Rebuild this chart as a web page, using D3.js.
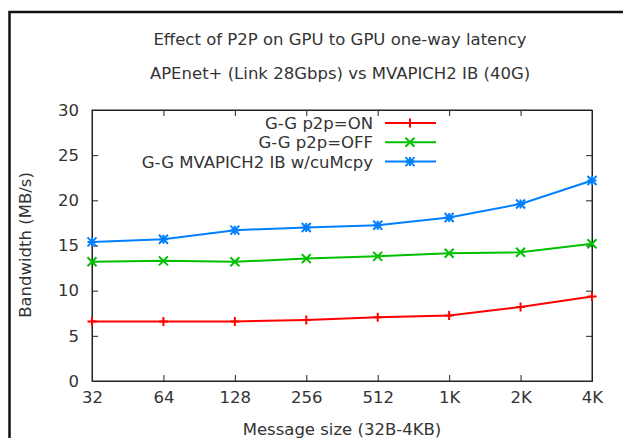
<!DOCTYPE html>
<html>
<head>
<meta charset="utf-8">
<script src="https://cdn.jsdelivr.net/npm/d3@7"></script>
<style>
  body { margin: 0; background: #fff; }
  text { font-family: "DejaVu Sans", sans-serif; fill: #333; }
</style>
</head>
<body>
<svg width="623" height="438"></svg>
<script>
// message sizes on the x axis (log2 steps)
const sizes = ["32", "64", "128", "256", "512", "1K", "2K", "4K"];
const yTicks = [0, 5, 10, 15, 20, 25, 30];

// bandwidth in MB/s
const p2pOn  = [6.6, 6.6, 6.6, 6.75, 7.05, 7.25, 8.2, 9.35];
const p2pOff = [13.2, 13.3, 13.2, 13.55, 13.8, 14.15, 14.25, 15.2];
const mvapich = [15.4, 15.7, 16.7, 17.0, 17.25, 18.1, 19.6, 22.2];

const series = [
  { name: "G-G p2p=ON", values: p2pOn, color: "#ff0000", mark: "plus" },
  { name: "G-G p2p=OFF", values: p2pOff, color: "#00c000", mark: "cross" },
  { name: "G-G MVAPICH2 IB w/cuMcpy", values: mvapich, color: "#0080ff", mark: "star" }
];

var svg = d3.select("svg");

// outer frame, only left and top edges show
svg.append("rect")
    .attr("x", 9.5).attr("y", 12)
    .attr("width", 640).attr("height", 460)
    .style("fill", "none")
    .style("stroke", "#111")
    .style("stroke-width", 2.5);

var pLeft = 92, pRight = 592, pTop = 110, pBottom = 381;

var x = d3.scalePoint().domain(sizes).range([pLeft, pRight]);
var y = d3.scaleLinear().domain([0, 30]).range([pBottom, pTop]);

// titles
svg.append("text").attr("x", 340).attr("y", 45)
    .attr("text-anchor", "middle").style("font-size", "16.5px")
    .text("Effect of P2P on GPU to GPU one-way latency");
svg.append("text").attr("x", 340).attr("y", 79)
    .attr("text-anchor", "middle").style("font-size", "16.5px")
    .text("APEnet+ (Link 28Gbps) vs MVAPICH2 IB (40G)");

// axes, ticks pointing in on all four sides
var g = svg.append("g");
g.append("g").attr("transform", "translate(0," + pBottom + ")")
    .call(d3.axisBottom(x).tickSize(-6).tickPadding(10));
g.append("g").attr("transform", "translate(0," + pTop + ")")
    .call(d3.axisTop(x).tickSize(-6).tickFormat(""));
g.append("g").attr("transform", "translate(" + pLeft + ",0)")
    .call(d3.axisLeft(y).tickValues(yTicks).tickSize(-6).tickPadding(13));
g.append("g").attr("transform", "translate(" + pRight + ",0)")
    .call(d3.axisRight(y).tickValues(yTicks).tickSize(-6).tickFormat(""));
g.selectAll(".domain").style("stroke", "#222");
g.selectAll(".tick line").style("stroke", "#222");
g.selectAll(".tick text").style("font-size", "16.5px").style("fill", "#333")
    .style("font-family", "DejaVu Sans, sans-serif");

svg.append("rect")
    .attr("x", pLeft).attr("y", pTop)
    .attr("width", pRight - pLeft).attr("height", pBottom - pTop)
    .style("fill", "none").style("stroke", "#222").style("stroke-width", 1);

// axis labels
svg.append("text").attr("x", 342).attr("y", 435)
    .attr("text-anchor", "middle").style("font-size", "16.5px")
    .text("Message size (32B-4KB)");
svg.append("text")
    .attr("transform", "translate(31,245) rotate(-90)")
    .attr("text-anchor", "middle").style("font-size", "16.5px")
    .text("Bandwidth (MB/s)");

function marker(sel, kind, cx, cy, color) {
  var s = 4.5;
  var d = "";
  if (kind == "plus" || kind == "star")
    d += "M" + (cx - s) + "," + cy + "H" + (cx + s) + "M" + cx + "," + (cy - s) + "V" + (cy + s);
  if (kind == "cross" || kind == "star")
    d += "M" + (cx - s) + "," + (cy - s) + "L" + (cx + s) + "," + (cy + s) +
         "M" + (cx - s) + "," + (cy + s) + "L" + (cx + s) + "," + (cy - s);
  sel.append("path").attr("d", d)
      .style("stroke", color).style("stroke-width", 2).style("fill", "none");
}

var line = d3.line()
    .x(function(d, i) { return x(sizes[i]); })
    .y(function(d) { return y(d); });

series.forEach(function(s, k) {
  svg.append("path")
      .attr("d", line(s.values))
      .style("fill", "none")
      .style("stroke", s.color)
      .style("stroke-width", 2);
  s.values.forEach(function(v, i) {
    marker(svg, s.mark, x(sizes[i]), y(v), s.color);
  });

  // legend row
  var ly = 123 + k * 19.3;
  svg.append("text").attr("x", 373).attr("y", ly + 6)
      .attr("text-anchor", "end").style("font-size", "16.5px")
      .text(s.name);
  svg.append("line")
      .attr("x1", 385).attr("x2", 436).attr("y1", ly).attr("y2", ly)
      .style("stroke", s.color).style("stroke-width", 2);
  marker(svg, s.mark, 410, ly, s.color);
});
</script>
</body>
</html>
